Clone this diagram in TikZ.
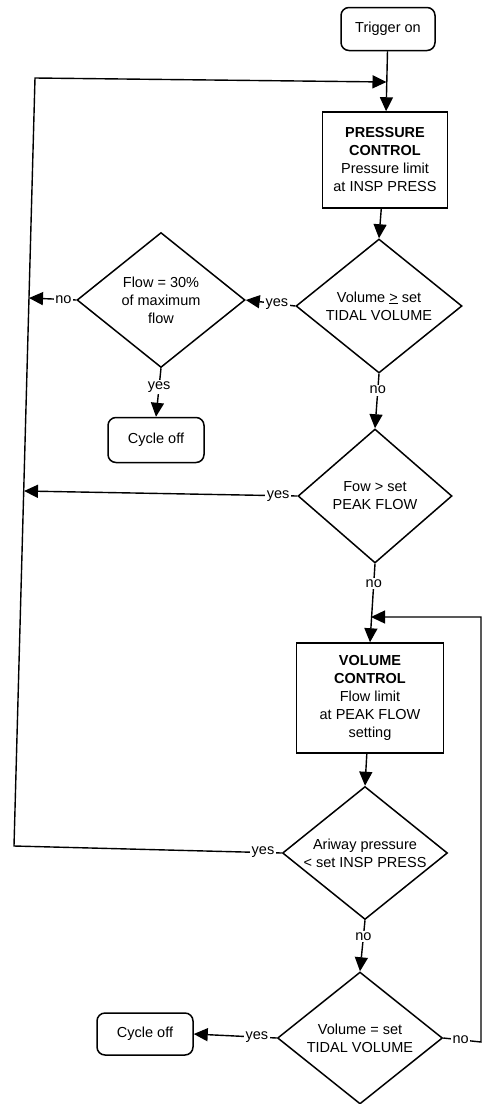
\documentclass[tikz,border=0pt]{standalone}
\usepackage{fontspec}
\setmainfont{Liberation Sans}
\usetikzlibrary{shapes.geometric,arrows.meta,calc}
\begin{document}
\begin{tikzpicture}[x=1pt,y=-1pt,
  every node/.style={font=\fontsize{14.5}{18}\selectfont},
  proc/.style={draw,line width=1.5pt,align=center,inner sep=0pt},
  term/.style={draw,line width=1.5pt,rounded corners=8pt,align=center,inner sep=0pt},
  dec/.style={draw,diamond,aspect=1.22,line width=1.5pt,align=center,inner sep=-4pt},
  conn/.style={line width=1.4pt,-{Triangle[length=14pt,width=13pt]}},
  lbl/.style={fill=white,inner sep=1.5pt}]
\useasboundingbox (0,0) rectangle (483,1104);
\fill[white] (0,0) rectangle (483,1104);

\node[term,minimum width=94pt,minimum height=43pt] (trig) at (388,29) {Trigger on};
\node[proc,minimum width=125pt,minimum height=96pt] (press) at (385,160)
  {\textbf{PRESSURE}\\\textbf{CONTROL}\\Pressure limit\\at INSP PRESS};
\node[dec,minimum width=166pt,minimum height=134pt] (vol) at (379,306)
  {Volume \underline{>} set\\TIDAL VOLUME};
\node[dec,minimum width=168pt,minimum height=135pt] (flow) at (161,300)
  {Flow = 30\%\\of maximum\\flow};
\node[term,minimum width=96pt,minimum height=45pt] (cyc1) at (156,440) {Cycle off};
\node[dec,minimum width=154pt,minimum height=134pt] (fow) at (375,496)
  {Fow > set\\PEAK FLOW};
\node[proc,minimum width=147pt,minimum height=110pt] (vc) at (370,698)
  {\textbf{VOLUME}\\\textbf{CONTROL}\\Flow limit\\at PEAK FLOW\\setting};
\node[dec,minimum width=165pt,minimum height=133pt] (air) at (365,853)
  {Ariway pressure\\< set INSP PRESS};
\node[dec,minimum width=165pt,minimum height=132pt] (vset) at (360,1038)
  {Volume = set\\TIDAL VOLUME};
\node[term,minimum width=96pt,minimum height=42pt] (cyc2) at (145,1034) {Cycle off};

\coordinate (LT) at (35,78);
\coordinate (LB) at (14,846);
\coordinate (M1) at (386.5,82);
\coordinate (A1) at (29,298);
\coordinate (A2) at (24,491);
\coordinate (RB) at (481,1042);
\coordinate (RT) at (481,617);
\coordinate (M2) at (371,617);

\draw[conn] (trig) -- (press);
\draw[conn] (press) -- (vol.north);
\draw[conn] (vol.west) -- node[lbl,pos=0.37]{yes} (flow.east);
\draw[conn] (flow.west) -- node[lbl,pos=0.27]{no} (A1);
\draw[conn] (flow.south) -- node[lbl,pos=0.38]{yes} (cyc1.north);
\draw[conn] (vol.south) -- node[lbl,pos=0.3]{no} (fow.north);
\draw[conn] (fow.west) -- node[lbl,pos=0.07]{yes} (A2);
\draw[conn] (fow.south) -- node[lbl,pos=0.25]{no} (vc.north);
\draw[conn] (vc) -- (air.north);
\draw[conn] (air.west) -- node[lbl,pos=0.07]{yes} (LB) -- (LT) -- (M1);
\draw[conn] (air.south) -- node[lbl,pos=0.32]{no} (vset.north);
\draw[conn] (vset.west) -- node[lbl,pos=0.24]{yes} (cyc2.east);
\draw[conn] (vset.east) -- node[lbl,pos=0.46]{no} (RB) -- (RT) -- (M2);
\end{tikzpicture}
\end{document}
